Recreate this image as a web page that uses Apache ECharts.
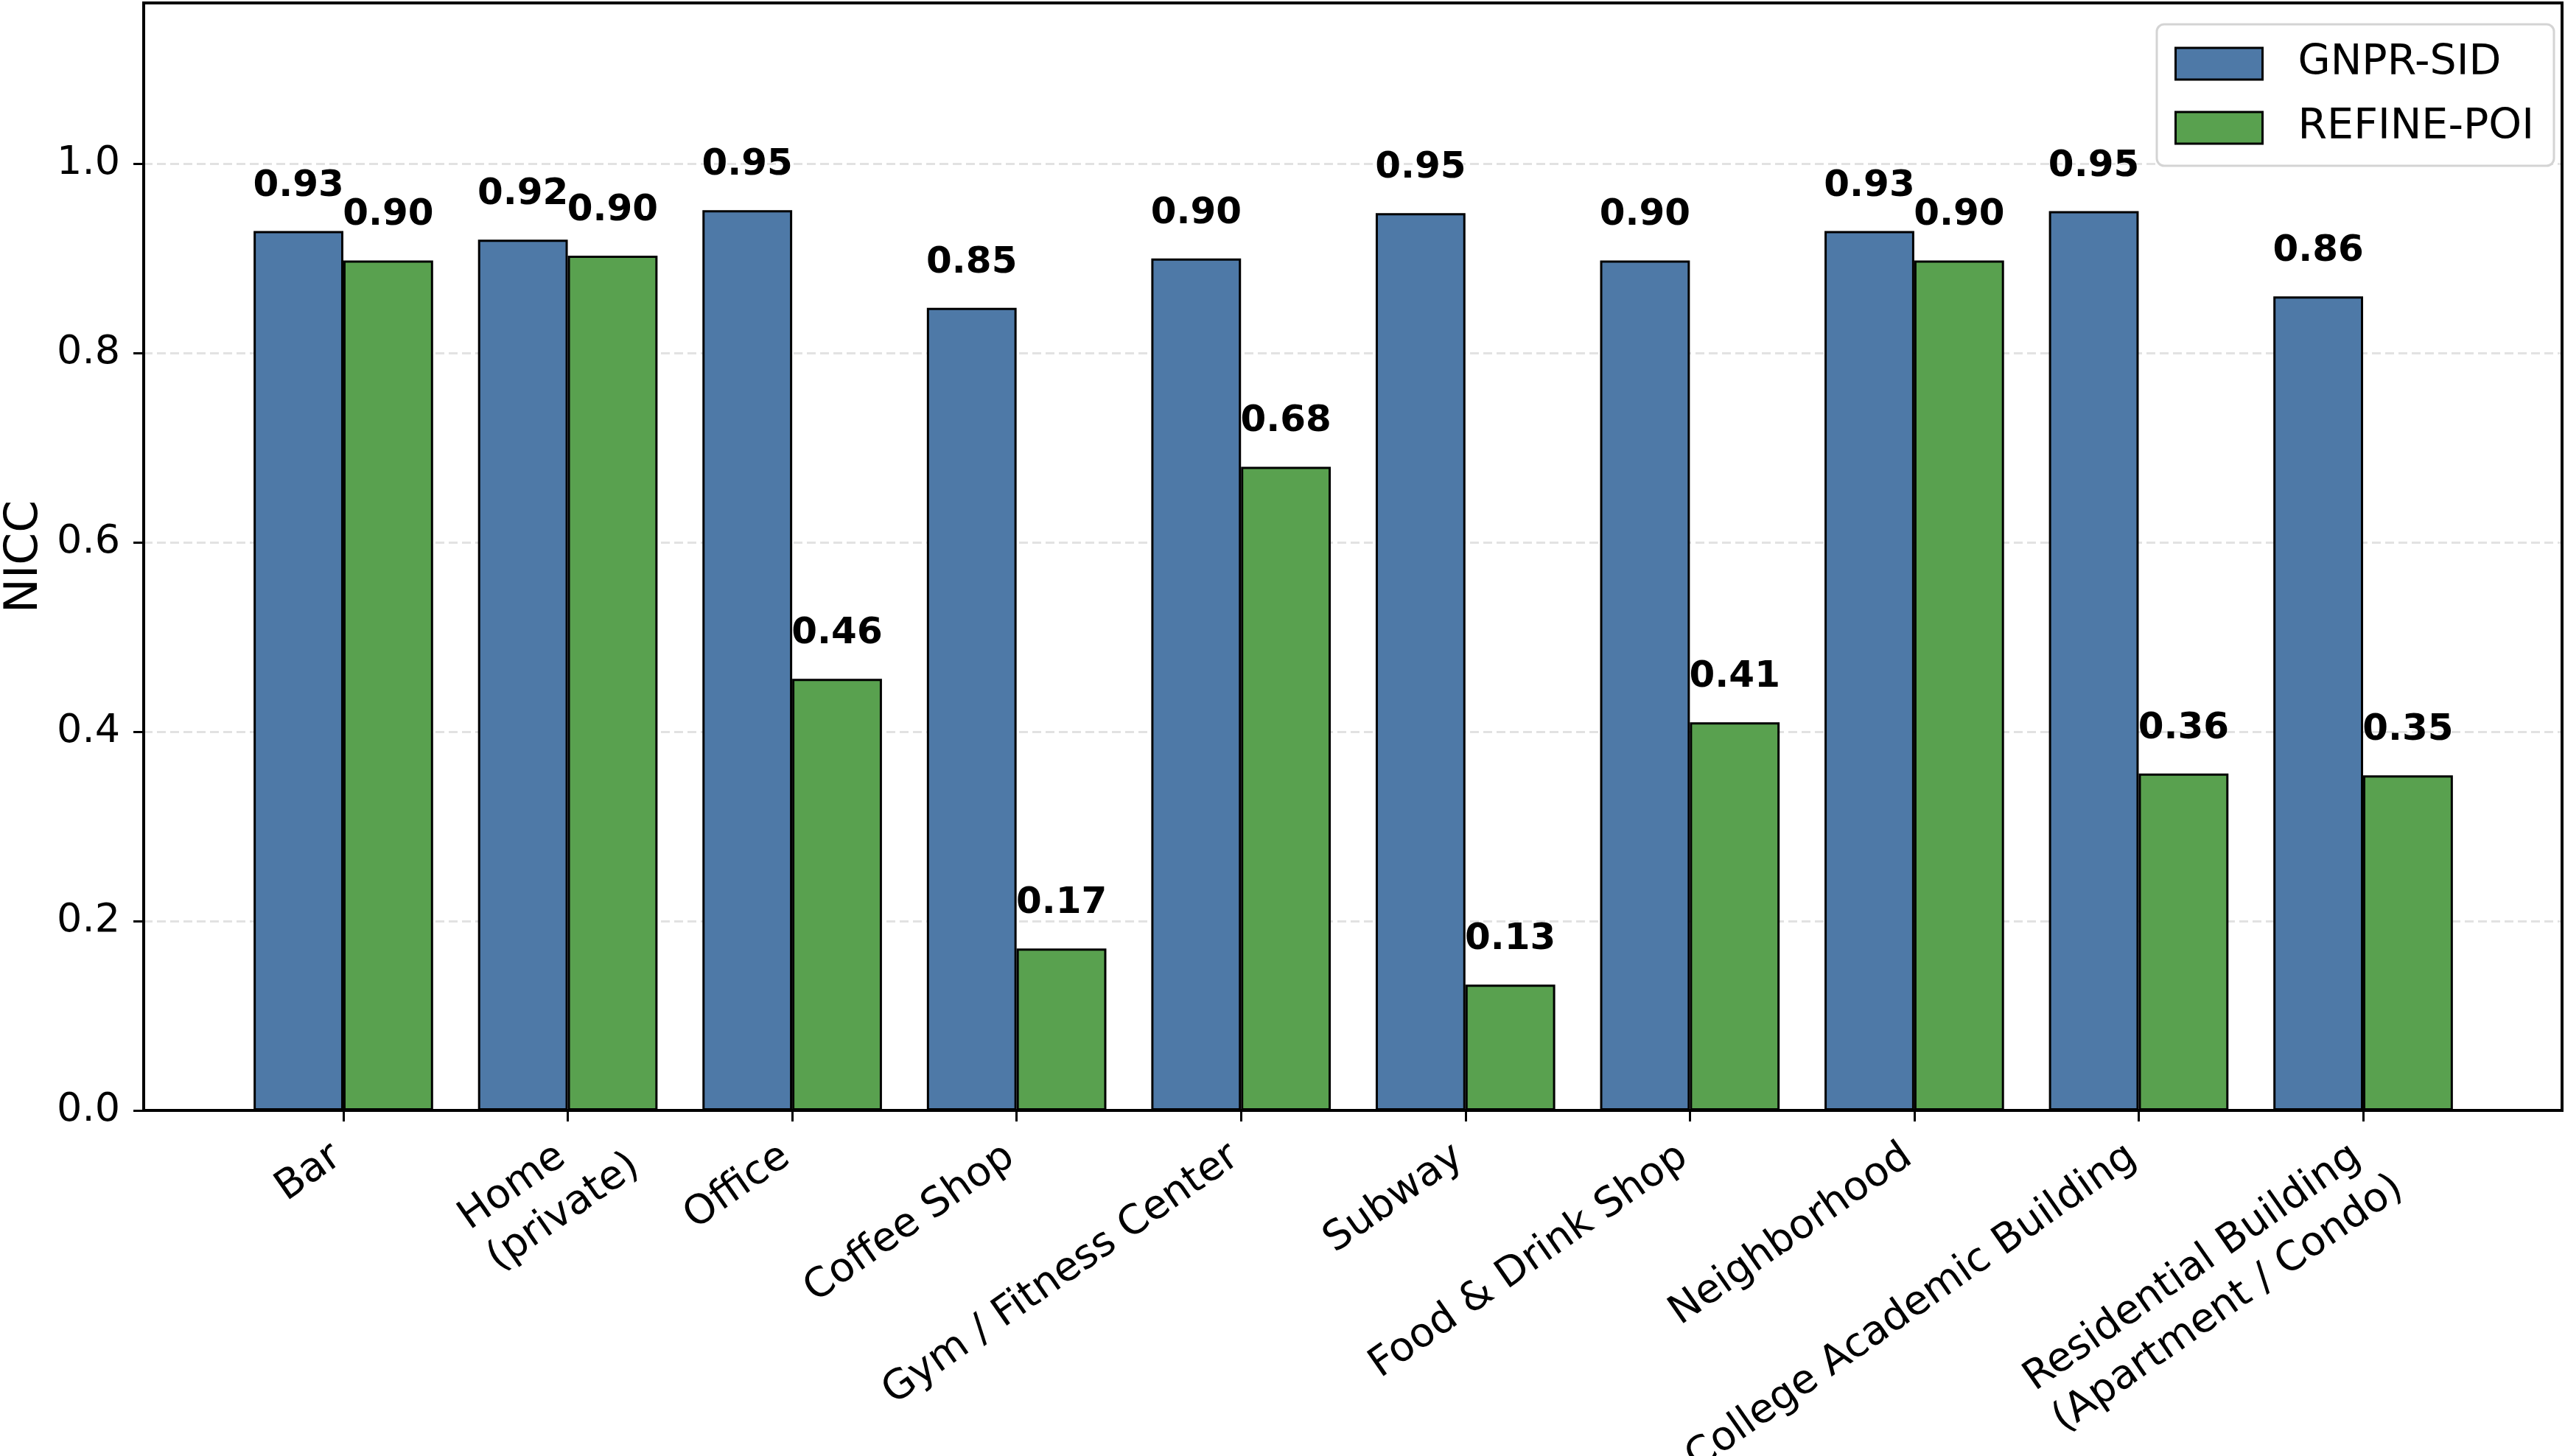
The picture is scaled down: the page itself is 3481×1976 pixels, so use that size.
<!DOCTYPE html>
<html>
<head>
<meta charset="utf-8">
<script src="https://cdn.jsdelivr.net/npm/echarts@6/dist/echarts.min.js"></script>
<style>
html, body { margin: 0; padding: 0; background: #fff; }
#chart { width: 3481px; height: 1976px; }
</style>
</head>
<body>
<div id="chart"></div>
<script>
// data
var categories = ['Bar', 'Home\n(private)', 'Office', 'Coffee Shop', 'Gym / Fitness Center', 'Subway',
	'Food & Drink Shop', 'Neighborhood', 'College Academic Building', 'Residential Building\n(Apartment / Condo)'];
var gnprSid = [0.929, 0.920, 0.951, 0.848, 0.900, 0.948, 0.898, 0.929, 0.950, 0.860];
var refinePoi = [0.898, 0.903, 0.456, 0.171, 0.680, 0.133, 0.410, 0.898, 0.356, 0.354];
var yTicks = [0, 0.2, 0.4, 0.6, 0.8, 1.0];

var font = 'DejaVu Sans';
var xFontSize = 55;
var xLineHeight = 68;
var xRotate = 35;
var xMargin = -67;
var myChart = echarts.init(document.getElementById('chart'));

// tick labels: the top-right corner of the first line sits at (tick - 28, axis + 30);
// lines are left aligned, so a longer second line pushes the block along the text.
// ECharts anchors the right-middle of the label, so shift it with padding.
var ctx = document.createElement('canvas').getContext('2d');
ctx.font = xFontSize + 'px "' + font + '"';
var rad = xRotate * Math.PI / 180;
var ux = Math.cos(rad), uy = -Math.sin(rad);   // along the text
var vx = Math.sin(rad), vy = Math.cos(rad);    // down, across the text
function xLabelItem(c) {
	var lines = c.split('\n');
	var widths = lines.map(function (s) { return ctx.measureText(s).width; });
	var extra = Math.max.apply(null, widths) - widths[0];
	var half = lines.length * xLineHeight / 2;
	var dx = -28 + extra * ux + half * vx;
	var dy = 30 - xMargin + extra * uy + half * vy;
	var padRight = Math.max(0, -(dx * ux + dy * uy));
	var padTop = Math.max(0, 2 * (dx * vx + dy * vy));
	return { value: c, textStyle: { padding: [padTop, padRight, 0, 0] } };
}

function barLabel() {
	return {
		show: true,
		position: 'top',
		distance: 36,
		formatter: function (p) { return p.value.toFixed(2); },
		fontFamily: font,
		fontWeight: 'bold',
		fontSize: 50,
		color: '#000'
	};
}

var option = {
	animation: false,
	backgroundColor: '#fff',
	legend: {
		orient: 'vertical',
		right: 15,
		top: 33,
		padding: [25, 27, 23, 24],
		itemWidth: 118,
		itemHeight: 43,
		itemGap: 30,
		backgroundColor: '#fff',
		borderColor: '#d4d4d4',
		borderWidth: 3,
		borderRadius: 10,
		icon: 'rect',
		itemStyle: { borderColor: '#000', borderWidth: 3 },
		textStyle: { fontFamily: font, fontSize: 57, color: '#000', padding: [0, 0, 0, 43] },
		data: ['GNPR-SID', 'REFINE-POI']
	},
	grid: [
		{ // frame
			left: 195, right: 4, top: 4, bottom: 469,
			show: true, borderColor: '#000', borderWidth: 4,
			backgroundColor: 'transparent', z: 5,
			outerBoundsMode: 'none'
		},
		{ // bars
			left: 313.7, right: 121.7, top: 4, bottom: 469,
			outerBoundsMode: 'none'
		}
	],
	xAxis: [
		{ gridIndex: 0, type: 'value', min: 0, max: 1, show: false },
		{
			gridIndex: 1,
			type: 'category',
			data: categories.map(xLabelItem),
			axisLine: { show: false },
			axisTick: { show: true, alignWithLabel: true, length: 15, lineStyle: { color: '#000', width: 3 } },
			axisLabel: {
				interval: 0,
				rotate: xRotate,
				margin: xMargin,
				color: '#000',
				fontFamily: font,
				fontSize: xFontSize,
				formatter: function (v) {
					return v.split('\n').map(function (s) { return '{l|' + s + '}'; }).join('\n');
				},
				rich: {
					l: { align: 'left', fontFamily: font, fontSize: xFontSize, color: '#000', lineHeight: xLineHeight }
				}
			}
		}
	],
	yAxis: [
		{
			gridIndex: 0,
			type: 'value',
			min: 0,
			max: 1.17,
			interval: 0.2,
			name: 'NICC',
			nameLocation: 'middle',
			nameGap: 130,
			nameTextStyle: { fontFamily: font, fontSize: 63, color: '#000' },
			axisLine: { show: false },
			axisTick: { show: true, length: 14, customValues: yTicks, lineStyle: { color: '#000', width: 3 } },
			axisLabel: {
				margin: 32,
				color: '#000',
				fontFamily: font,
				fontSize: 54,
				customValues: yTicks,
				formatter: function (v) { return v.toFixed(1); }
			},
			splitLine: {
				show: true,
				lineStyle: { color: '#e2e2e2', width: 3, type: [12, 6] }
			}
		},
		{ gridIndex: 1, type: 'value', min: 0, max: 1.17, show: false }
	],
	series: [
		{
			name: 'GNPR-SID',
			type: 'bar',
			xAxisIndex: 1,
			yAxisIndex: 1,
			barWidth: '40%',
			barGap: '0%',
			itemStyle: { color: '#4e79a7', borderColor: '#000', borderWidth: 3 },
			label: barLabel(),
			data: gnprSid
		},
		{
			name: 'REFINE-POI',
			type: 'bar',
			xAxisIndex: 1,
			yAxisIndex: 1,
			barWidth: '40%',
			barGap: '0%',
			itemStyle: { color: '#59a14f', borderColor: '#000', borderWidth: 3 },
			label: barLabel(),
			data: refinePoi
		}
	]
};

myChart.setOption(option);
</script>
</body>
</html>
